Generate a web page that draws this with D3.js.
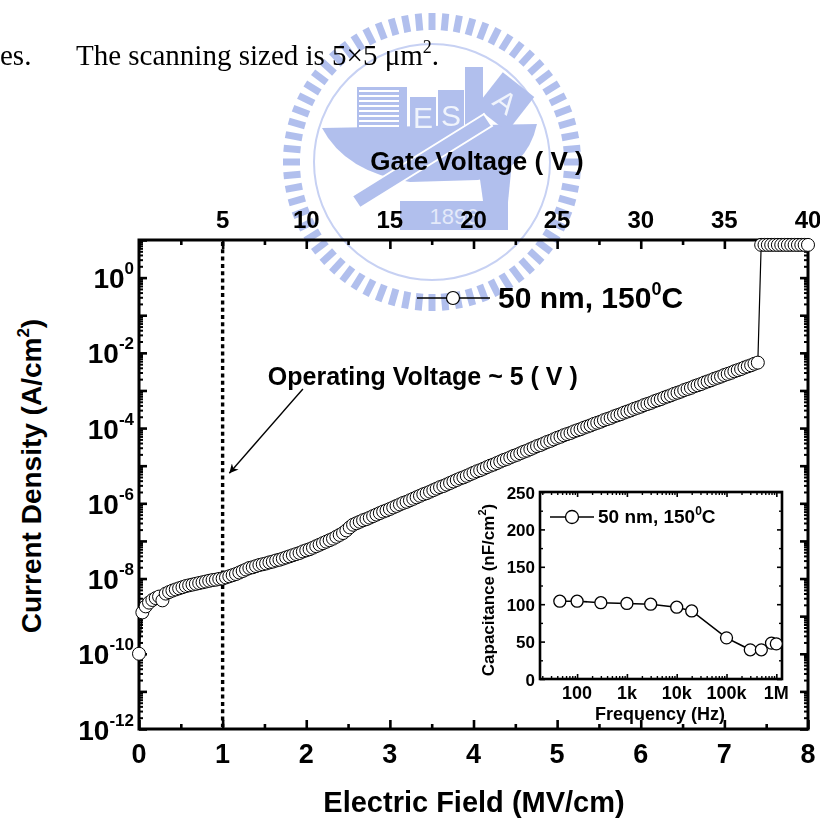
<!DOCTYPE html>
<html>
<head>
<meta charset="utf-8">
<script src="https://cdnjs.cloudflare.com/ajax/libs/d3/7.8.5/d3.min.js"></script>
<style>
body { margin: 0; background: #fff; }
svg text { font-family: "Liberation Sans", Arial, sans-serif; font-weight: bold; fill: #000; }
svg text.serif { font-family: "Liberation Serif", "Times New Roman", serif; font-weight: normal; }
</style>
</head>
<body>
<div id="chart"></div>
<script>
// J-E sweep: gate voltage stepped 0.2 V => 0.04 MV/cm per point
const fieldStep = 0.04;
// log10 of current density (A/cm2), one per step from 0 MV/cm
const logJ = [
  -10.00,-8.90,-8.74,-8.64,-8.57,-8.52,-8.48,-8.58,-8.40,-8.36,
  -8.32,-8.29,-8.26,-8.23,-8.20,-8.18,-8.16,-8.14,-8.12,-8.10,
  -8.08,-8.06,-8.04,-8.03,-8.01,-8.00,-7.97,-7.94,-7.91,-7.88,
  -7.84,-7.80,-7.76,-7.72,-7.70,-7.67,-7.64,-7.62,-7.60,-7.57,
  -7.55,-7.52,-7.50,-7.47,-7.44,-7.41,-7.38,-7.35,-7.32,-7.28,
  -7.25,-7.22,-7.18,-7.14,-7.10,-7.06,-7.02,-6.98,-6.94,-6.89,
  -6.84,-6.79,-6.72,-6.64,-6.57,-6.53,-6.49,-6.45,-6.42,-6.38,
  -6.34,-6.30,-6.26,-6.22,-6.19,-6.15,-6.11,-6.07,-6.03,-5.99,
  -5.96,-5.92,-5.88,-5.84,-5.80,-5.76,-5.73,-5.69,-5.65,-5.61,
  -5.57,-5.54,-5.50,-5.46,-5.42,-5.38,-5.34,-5.31,-5.27,-5.23,
  -5.19,-5.15,-5.12,-5.08,-5.04,-5.00,-4.97,-4.93,-4.89,-4.85,
  -4.82,-4.78,-4.74,-4.71,-4.67,-4.63,-4.60,-4.56,-4.52,-4.48,
  -4.45,-4.41,-4.37,-4.34,-4.30,-4.26,-4.23,-4.19,-4.16,-4.13,
  -4.09,-4.06,-4.03,-3.99,-3.96,-3.93,-3.89,-3.86,-3.83,-3.79,
  -3.76,-3.73,-3.69,-3.66,-3.63,-3.59,-3.56,-3.53,-3.49,-3.46,
  -3.43,-3.39,-3.36,-3.33,-3.29,-3.26,-3.23,-3.19,-3.16,-3.13,
  -3.09,-3.06,-3.03,-2.99,-2.96,-2.93,-2.89,-2.86,-2.83,-2.79,
  -2.76,-2.73,-2.69,-2.66,-2.63,-2.59,-2.56,-2.53,-2.49,-2.46,
  -2.43,-2.39,-2.36,-2.33,-2.29,-2.26, 0.87, 0.87, 0.87, 0.87,
   0.87, 0.87, 0.87, 0.87, 0.87, 0.87, 0.87, 0.87, 0.87, 0.87,
   0.87
];

const fieldTicks = [0, 1, 2, 3, 4, 5, 6, 7, 8];
const gateTicks = [5, 10, 15, 20, 25, 30, 35, 40];
const jLabelExp = [0, -2, -4, -6, -8, -10, -12];
const operatingField = 1;   // 5 V

// inset: C-f
const freq = [45, 100, 300, 1e3, 3e3, 1e4, 2e4, 1e5, 3e5, 5e5, 8e5, 1e6];
const cap = [104, 104, 102, 101, 100, 96, 91, 55, 39, 39, 48, 47];
const capTicks = [0, 50, 100, 150, 200, 250];
const freqTicks = [100, 1e3, 1e4, 1e5, 1e6];
const freqLabels = ["100", "1k", "10k", "100k", "1M"];

const W = 820, H = 818;
const svg = d3.select("#chart").append("svg")
    .attr("width", W).attr("height", H);

// ---------- watermark (faint logo behind the plot)
var drawWatermark = function(){
    var wm = svg.append("g").attr("opacity", 0.85);
    var cx = 432, cy = 162;
    var blue = "#a3b4ea";
    d3.range(68).forEach(function(i){
        wm.append("rect")
            .attr("x", -3.5).attr("y", -149)
            .attr("width", 7).attr("height", 17)
            .attr("fill", blue)
            .attr("transform", "translate(" + cx + "," + cy + ") rotate(" + (i * 360 / 68) + ")");
    });
    wm.append("circle").attr("cx", cx).attr("cy", cy).attr("r", 118)
        .attr("fill", "none").attr("stroke", "#bdc9f1").attr("stroke-width", 2);
    // hull
    wm.append("path")
        .attr("d", "M322,128 L537,124 Q527,170 478,180 L410,182 Q345,172 322,128 Z")
        .attr("fill", blue);
    wm.append("path")
        .attr("d", "M478,165 L512,162 L508,202 L484,208 Z")
        .attr("fill", blue);
    // striped building
    wm.append("rect").attr("x", 357).attr("y", 87).attr("width", 50).attr("height", 45).attr("fill", blue);
    d3.range(8).forEach(function(i){
        wm.append("rect").attr("x", 359).attr("y", 90 + i * 5).attr("width", 40).attr("height", 2).attr("fill", "#fff");
    });
    wm.append("rect").attr("x", 410).attr("y", 97).attr("width", 26).attr("height", 35).attr("fill", blue);
    wm.append("rect").attr("x", 438).attr("y", 90).attr("width", 26).attr("height", 42).attr("fill", blue);
    wm.append("rect").attr("x", 465).attr("y", 67).attr("width", 18).attr("height", 65).attr("fill", blue);
    wm.append("rect").attr("x", -20).attr("y", -22).attr("width", 40).attr("height", 44)
        .attr("fill", blue).attr("transform", "translate(505,102) rotate(38)");
    [["E", 423, 128, 0], ["S", 451, 126, 0], ["A", 505, 112, 38]].forEach(function(t){
        wm.append("text").attr("x", t[1]).attr("y", t[2])
            .attr("text-anchor", "middle")
            .attr("transform", "rotate(" + t[3] + "," + t[1] + "," + (t[2] - 10) + ")")
            .style("font-weight", "normal").style("font-size", "30px").style("fill", "#eef2fc")
            .text(t[0]);
    });
    // diagonal bar
    wm.append("path")
        .attr("d", "M352,196 L484,114 L492,126 L360,208 Z")
        .attr("fill", blue).attr("stroke", "#fff").attr("stroke-width", 2);
    // plate
    wm.append("rect").attr("x", 400).attr("y", 201).attr("width", 108).attr("height", 29).attr("fill", blue);
    wm.append("text").attr("x", 454).attr("y", 224).attr("text-anchor", "middle")
        .style("font-weight", "normal").style("font-size", "22px").style("fill", "#dfe6f9")
        .text("1896");
};
drawWatermark();

// ---------- header text from the page
svg.append("text").attr("class", "serif").attr("x", 0).attr("y", 65)
    .style("font-size", "29px").text("es.");
var hdr = svg.append("text").attr("class", "serif").attr("x", 76).attr("y", 65)
    .style("font-size", "29px");
hdr.append("tspan").text("The scanning sized is 5\u00d75 \u03bcm");
hdr.append("tspan").attr("dy", -12).style("font-size", "18px").text("2");
hdr.append("tspan").attr("dy", 12).text(".");

// ---------- main plot
const fr = {l: 139, r: 808, t: 240, b: 729};
const x = d3.scaleLinear().domain([0, 8]).range([fr.l, fr.r]);
const xTop = d3.scaleLinear().domain([0, 40]).range([fr.l, fr.r]);
const y = d3.scaleLog().domain([1e-12, 10]).range([fr.b, fr.t]);

var decades = d3.range(-12, 1);
var yMajor = decades.map(function(d){ return Math.pow(10, d); }).concat([10]);
var yMinor = [];
decades.forEach(function(d){
    for (var m = 2; m <= 9; m++) yMinor.push(m * Math.pow(10, d));
});
var xMinor = fieldTicks.slice(0, -1).map(function(v){ return v + 0.5; });

var tickAxis = function(axis, tx, ty, sw){
    var g = svg.append("g")
        .attr("transform", "translate(" + tx + "," + ty + ")")
        .call(axis);
    g.select(".domain").remove();
    g.selectAll("line").attr("stroke", "#000").attr("stroke-width", sw);
    return g;
};

tickAxis(d3.axisBottom(x).tickValues(fieldTicks).tickSize(-9).tickFormat(""), 0, fr.b, 2.6);
tickAxis(d3.axisBottom(x).tickValues(xMinor).tickSize(-5).tickFormat(""), 0, fr.b, 2.6);
tickAxis(d3.axisTop(xTop).tickValues([0].concat(gateTicks)).tickSize(-9).tickFormat(""), 0, fr.t, 2.6);
tickAxis(d3.axisTop(xTop).tickValues(gateTicks.map(function(v){ return v - 2.5; })).tickSize(-5).tickFormat(""), 0, fr.t, 2.6);
tickAxis(d3.axisLeft(y).tickValues(yMajor).tickSize(-8).tickFormat(""), fr.l, 0, 2.6);
tickAxis(d3.axisLeft(y).tickValues(yMinor).tickSize(-4).tickFormat(""), fr.l, 0, 2);
tickAxis(d3.axisRight(y).tickValues(yMajor).tickSize(-8).tickFormat(""), fr.r, 0, 2.6);
tickAxis(d3.axisRight(y).tickValues(yMinor).tickSize(-4).tickFormat(""), fr.r, 0, 2);

svg.append("rect")
    .attr("x", fr.l).attr("y", fr.t)
    .attr("width", fr.r - fr.l).attr("height", fr.b - fr.t)
    .attr("fill", "none").attr("stroke", "#000").attr("stroke-width", 3);

// tick labels
svg.append("g").selectAll("text").data(fieldTicks).join("text")
    .attr("x", function(d){ return x(d); }).attr("y", 763)
    .attr("text-anchor", "middle").style("font-size", "27px")
    .text(function(d){ return d; });

svg.append("g").selectAll("text").data(gateTicks).join("text")
    .attr("x", function(d){ return xTop(d); }).attr("y", 228)
    .attr("text-anchor", "middle").style("font-size", "24px")
    .text(function(d){ return d; });

jLabelExp.forEach(function(e){
    var t = svg.append("text")
        .attr("x", 134).attr("y", y(Math.pow(10, e)) + 10.5)
        .attr("text-anchor", "end").style("font-size", "28px");
    t.append("tspan").text("10");
    t.append("tspan").attr("dy", -14).style("font-size", "17px").text(e);
});

// axis titles
svg.append("text").attr("x", 474).attr("y", 812).attr("text-anchor", "middle")
    .style("font-size", "29px").text("Electric Field (MV/cm)");
svg.append("text").attr("x", 477).attr("y", 170).attr("text-anchor", "middle")
    .style("font-size", "26px").text("Gate Voltage ( V )");
var yt = svg.append("text")
    .attr("transform", "translate(41,476) rotate(-90)")
    .attr("text-anchor", "middle").style("font-size", "28px");
yt.append("tspan").text("Current Density (A/cm");
yt.append("tspan").attr("dy", -12).style("font-size", "17px").text("2");
yt.append("tspan").attr("dy", 12).text(")");

// operating voltage marker
svg.append("line")
    .attr("x1", x(operatingField)).attr("x2", x(operatingField))
    .attr("y1", fr.t + 2).attr("y2", fr.b - 2)
    .attr("stroke", "#000").attr("stroke-width", 3.4)
    .attr("stroke-dasharray", "4,3.3");

svg.append("defs").append("marker")
    .attr("id", "arr").attr("viewBox", "0 0 10 10")
    .attr("refX", 10).attr("refY", 5)
    .attr("markerWidth", 9).attr("markerHeight", 9)
    .attr("markerUnits", "userSpaceOnUse")
    .attr("orient", "auto")
    .append("path").attr("d", "M0,0 L10,5 L0,10 L3,5 Z").attr("fill", "#000");

// arrow and note, placed in data units
const noteFrom = [1.96, -2.96], noteTo = [1.08, -5.2], noteAt = [1.54, -2.85];
svg.append("line")
    .attr("x1", x(noteFrom[0])).attr("y1", y(Math.pow(10, noteFrom[1])))
    .attr("x2", x(noteTo[0])).attr("y2", y(Math.pow(10, noteTo[1])))
    .attr("stroke", "#000").attr("stroke-width", 1.4)
    .attr("marker-end", "url(#arr)");
svg.append("text")
    .attr("x", x(noteAt[0])).attr("y", y(Math.pow(10, noteAt[1])))
    .style("font-size", "25px").text("Operating Voltage ~ 5 ( V )");

// data
const pts = logJ.map(function(v, i){ return {e: i * fieldStep, j: Math.pow(10, v)}; });
svg.append("path")
    .datum(pts)
    .attr("fill", "none").attr("stroke", "#000").attr("stroke-width", 1.2)
    .attr("d", d3.line().x(function(d){ return x(d.e); }).y(function(d){ return y(d.j); }));
svg.append("g").selectAll("circle").data(pts).join("circle")
    .attr("cx", function(d){ return x(d.e); })
    .attr("cy", function(d){ return y(d.j); })
    .attr("r", 6.5)
    .attr("fill", "#fff").attr("stroke", "#000").attr("stroke-width", 1);

// legend
svg.append("line").attr("x1", 417).attr("x2", 490).attr("y1", 298).attr("y2", 298)
    .attr("stroke", "#000").attr("stroke-width", 1.6);
svg.append("circle").attr("cx", 453).attr("cy", 298).attr("r", 6.5)
    .attr("fill", "#fff").attr("stroke", "#000").attr("stroke-width", 1.2);
var lg = svg.append("text").attr("x", 498).attr("y", 308).style("font-size", "30px");
lg.append("tspan").text("50 nm, 150");
lg.append("tspan").attr("dy", -13).style("font-size", "18px").text("0");
lg.append("tspan").attr("dy", 13).text("C");

// ---------- inset
const ib = {l: 540, r: 782, t: 492, b: 679};
const fx = d3.scaleLog().domain([18, 1.3e6]).range([ib.l, ib.r]);
const cy = d3.scaleLinear().domain([0, 250]).range([ib.b, ib.t]);

svg.append("rect").attr("x", ib.l).attr("y", ib.t)
    .attr("width", ib.r - ib.l).attr("height", ib.b - ib.t)
    .attr("fill", "#fff");

var fMinor = [];
[10, 100, 1e3, 1e4, 1e5, 1e6].forEach(function(d){
    for (var m = 2; m <= 9; m++) if (m * d > 18 && m * d < 1.3e6) fMinor.push(m * d);
});
var capMinor = [25, 75, 125, 175, 225];

tickAxis(d3.axisBottom(fx).tickValues(freqTicks).tickSize(-5).tickFormat(""), 0, ib.b, 1.6);
tickAxis(d3.axisBottom(fx).tickValues(fMinor).tickSize(-3).tickFormat(""), 0, ib.b, 1.4);
tickAxis(d3.axisTop(fx).tickValues(freqTicks).tickSize(-5).tickFormat(""), 0, ib.t, 1.6);
tickAxis(d3.axisTop(fx).tickValues(fMinor).tickSize(-3).tickFormat(""), 0, ib.t, 1.4);
tickAxis(d3.axisLeft(cy).tickValues(capTicks).tickSize(-5).tickFormat(""), ib.l, 0, 1.6);
tickAxis(d3.axisLeft(cy).tickValues(capMinor).tickSize(-3).tickFormat(""), ib.l, 0, 1.4);
tickAxis(d3.axisRight(cy).tickValues(capTicks).tickSize(-5).tickFormat(""), ib.r, 0, 1.6);
tickAxis(d3.axisRight(cy).tickValues(capMinor).tickSize(-3).tickFormat(""), ib.r, 0, 1.4);

svg.append("rect").attr("x", ib.l).attr("y", ib.t)
    .attr("width", ib.r - ib.l).attr("height", ib.b - ib.t)
    .attr("fill", "none").attr("stroke", "#000").attr("stroke-width", 2.6);

svg.append("g").selectAll("text").data(capTicks).join("text")
    .attr("x", 535).attr("y", function(d){ return cy(d) + 6.5; })
    .attr("text-anchor", "end").style("font-size", "17px")
    .text(function(d){ return d; });

svg.append("g").selectAll("text").data(freqTicks).join("text")
    .attr("x", function(d){ return fx(d); }).attr("y", 699)
    .attr("text-anchor", "middle").style("font-size", "18px")
    .text(function(d, i){ return freqLabels[i]; });

svg.append("text").attr("x", 660).attr("y", 720).attr("text-anchor", "middle")
    .style("font-size", "18px").text("Frequency (Hz)");
var it = svg.append("text")
    .attr("transform", "translate(494,590) rotate(-90)")
    .attr("text-anchor", "middle").style("font-size", "17px");
it.append("tspan").text("Capacitance (nF/cm");
it.append("tspan").attr("dy", -8).style("font-size", "11px").text("2");
it.append("tspan").attr("dy", 8).text(")");

const cpts = freq.map(function(f, i){ return {f: f, c: cap[i]}; });
svg.append("path").datum(cpts)
    .attr("fill", "none").attr("stroke", "#000").attr("stroke-width", 1.6)
    .attr("d", d3.line().x(function(d){ return fx(d.f); }).y(function(d){ return cy(d.c); }));
svg.append("g").selectAll("circle").data(cpts).join("circle")
    .attr("cx", function(d){ return fx(d.f); })
    .attr("cy", function(d){ return cy(d.c); })
    .attr("r", 6)
    .attr("fill", "#fff").attr("stroke", "#000").attr("stroke-width", 1.3);

svg.append("line").attr("x1", 550).attr("x2", 594).attr("y1", 517).attr("y2", 517)
    .attr("stroke", "#000").attr("stroke-width", 1.6);
svg.append("circle").attr("cx", 572).attr("cy", 517).attr("r", 6.5)
    .attr("fill", "#fff").attr("stroke", "#000").attr("stroke-width", 1.3);
var il = svg.append("text").attr("x", 598).attr("y", 523).style("font-size", "19px");
il.append("tspan").text("50 nm, 150");
il.append("tspan").attr("dy", -8).style("font-size", "12px").text("0");
il.append("tspan").attr("dy", 8).text("C");
</script>
</body>
</html>
